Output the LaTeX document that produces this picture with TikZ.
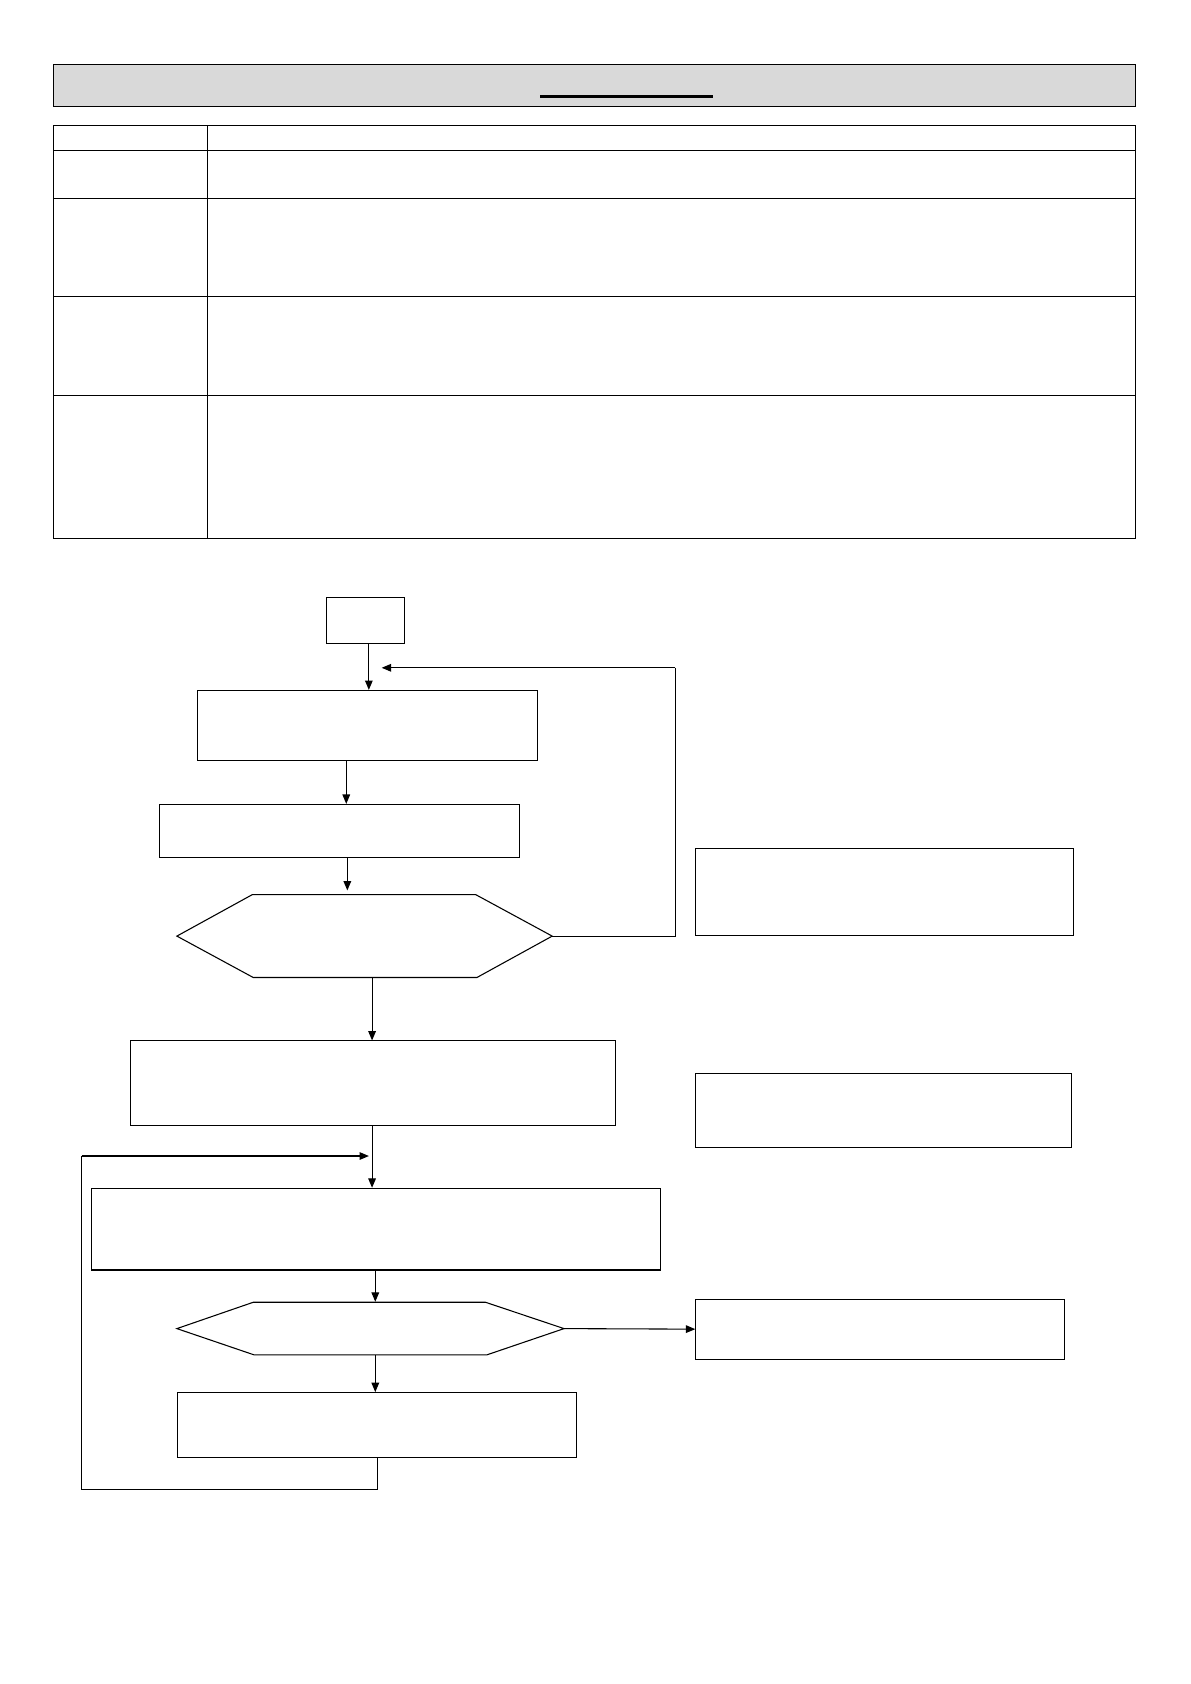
\documentclass[tikz,border=0pt]{standalone}
\usetikzlibrary{arrows}
\begin{document}
\begin{tikzpicture}[x=1pt,y=-1pt,->,>=triangle 45,line width=1pt,
  flow box/.style={draw,-,rectangle,inner sep=0pt},
  hex node/.style={rectangle,inner sep=0pt}]
  \useasboundingbox (0,0) rectangle (1107,1566);

  % header and table
  \fill[-,fill={rgb,255:red,217;green,217;blue,217}] (50,60) rectangle (1056,99);
  \draw[-] (50,60) rectangle (1056,99);
  \fill[-] (502,88.5) rectangle (663,91.5);
  \draw[-] (50,117) rectangle (1056,501);
  \draw[-] (193,117) -- (193,501);
  \foreach \y in {140,185,276,368}
    \draw[-] (50,\y) -- (1056,\y);

  % flow chart
  \node[flow box,minimum width=72,minimum height=42] (start) at (340,577) {};
  \node[flow box,minimum width=316,minimum height=65] (read) at (342,674.5) {};
  \node[flow box,minimum width=335,minimum height=49] (calc) at (315.5,772.5) {};
  \node[hex node,minimum width=348,minimum height=77] (test) at (339,870.5) {};
  \draw[-] (test.west) -- ++(70,-38.5) -- ++(208,0) -- (test.east) -- ++(-70,38.5) -- ++(-208,0) -- cycle;
  \node[flow box,minimum width=451,minimum height=79] (init) at (346.5,1007.5) {};
  \node[flow box,minimum width=529,minimum height=76] (step) at (349.5,1143) {};
  \node[hex node,minimum width=359,minimum height=49] (check) at (344.5,1235.5) {};
  \draw[-] (check.west) -- ++(71,-24.5) -- ++(216,0) -- (check.east) -- ++(-72,24.5) -- ++(-216,0) -- cycle;
  \node[flow box,minimum width=371,minimum height=60] (update) at (350.5,1325) {};

  \node[flow box,minimum width=351,minimum height=81] (noteA) at (822.5,829.5) {};
  \node[flow box,minimum width=349,minimum height=69] (noteB) at (821.5,1032.5) {};
  \node[flow box,minimum width=343,minimum height=56] (noteC) at (818.5,1236) {};

  \coordinate (backA) at (355,621);
  \coordinate (backB) at (343,1075);

  \draw (start.south -| 343,0) -- (read.north -| 343,0);
  \draw (read.south -| 322,0) -- (calc.north -| 322,0);
  \draw (calc.south -| 323,0) -- (323,828);
  \draw[-] (test.east) -- (628,870.5) -- (628,621);
  \draw (628,621) -- (backA);
  \draw (test.south -| 346,0) -- (init.north -| 346,0);
  \draw (init.south -| 346,0) -- (step.north -| 346,0);
  \draw (step.south -| 349,0) -- (check.north -| 349,0);
  \draw (check.east) -- (noteC.west);
  \draw (check.south -| 349,0) -- (update.north -| 349,0);
  \draw[-] (update.south -| 351,0) -- (351,1385) -- (76,1385) -- (76,1075);
  \draw (76,1075) -- (backB);
\end{tikzpicture}
\end{document}
